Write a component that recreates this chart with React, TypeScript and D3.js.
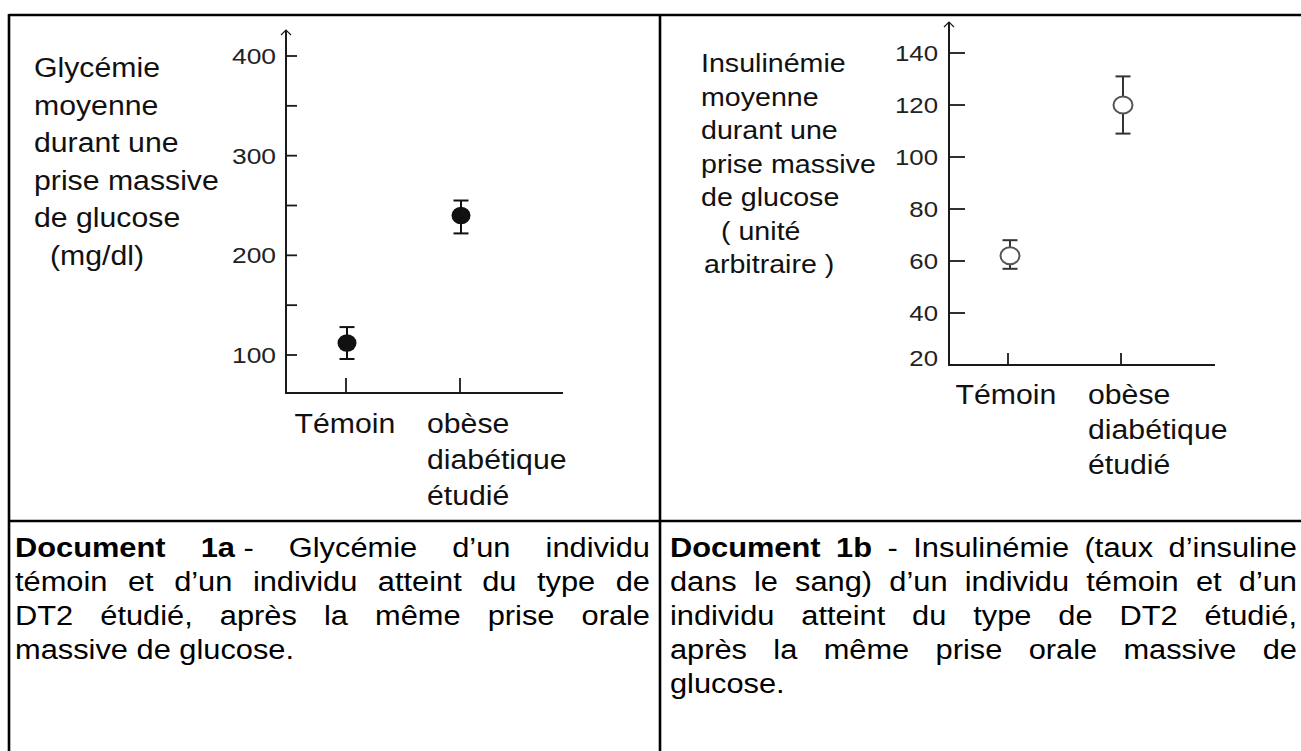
import React from 'react';
import * as d3 from 'd3';

const FONT = '"Liberation Sans", Arial, Helvetica, sans-serif';

// ---------- data ----------
const categories = ['Témoin', 'obèse diabétique étudié'];
const categoryLines = [['Témoin'], ['obèse', 'diabétique', 'étudié']];

const glycemieMean = [112, 240];
const glycemieLow = [96, 222];
const glycemieHigh = [128, 255];
const glyTickValues = [100, 150, 200, 250, 300, 350, 400];
const glyTickLabels = [100, 200, 300, 400];
const glyTitle = ['Glycémie', 'moyenne', 'durant une', 'prise massive', 'de glucose', '(mg/dl)'];

const insulinMean = [62, 120];
const insulinLow = [57, 109];
const insulinHigh = [68, 131];
const insTickValues = [40, 60, 80, 100, 120, 140];
const insTickLabels = [20, 40, 60, 80, 100, 120, 140];
const insTitle = ['Insulinémie', 'moyenne', 'durant une', 'prise massive', 'de glucose', '( unité', 'arbitraire )'];

const captionA = [
  '*Document* *1a*\u00a0- Glycémie d’un individu',
  'témoin et d’un individu atteint du type de',
  'DT2 étudié, après la même prise orale',
  'massive de glucose.',
];
const captionB = [
  '*Document* *1b* - Insulinémie (taux d’insuline',
  'dans le sang) d’un individu témoin et d’un',
  'individu atteint du type de DT2 étudié,',
  'après la même prise orale massive de',
  'glucose.',
];

// ---------- helpers ----------
let ctx: CanvasRenderingContext2D | null = null;
function measure(t: string, size: number, bold: boolean) {
  if (!ctx) ctx = document.createElement('canvas').getContext('2d');
  ctx!.font = `${bold ? 'bold ' : ''}${size}px ${FONT}`;
  return ctx!.measureText(t).width;
}
type Seg = { t: string; b: boolean };
function parseToken(tok: string): Seg[] {
  const parts = tok.split('*');
  const segs: Seg[] = [];
  parts.forEach((p, i) => {
    if (p.length) segs.push({ t: p, b: i % 2 === 1 });
  });
  return segs;
}

const SText = ({ x, y, size, sx, anchor = 'start', children, fill = '#111', weight = 'normal' }: any) => (
  <text
    transform={`translate(${x},${y}) scale(${sx},1)`}
    fontSize={size}
    textAnchor={anchor}
    fill={fill}
    fontWeight={weight}
    fontFamily={FONT}
  >
    {children}
  </text>
);

function Caption({ lines, x0, x1, y0, lh, size, sx }: any) {
  const W = x1 - x0;
  return (
    <g>
      {lines.map((line: string, li: number) => {
        const tokens = line.split(' ').map(parseToken);
        const widths = tokens.map((segs) => segs.reduce((s, g) => s + measure(g.t, size, g.b), 0) * sx);
        const justify = li < lines.length - 1 && tokens.length > 1;
        const spaceW = measure(' ', size, false) * sx;
        const total = widths.reduce((a, b) => a + b, 0);
        const gap = justify ? (W - total) / (tokens.length - 1) : spaceW;
        let x = x0;
        const y = y0 + li * lh;
        return tokens.map((segs, ti) => {
          const el = (
            <text
              key={`${li}-${ti}`}
              transform={`translate(${x},${y}) scale(${sx},1)`}
              fontSize={size}
              fontFamily={FONT}
              fill="#000"
            >
              {segs.map((g, gi) => (
                <tspan key={gi} fontWeight={g.b ? 'bold' : 'normal'}>
                  {g.t}
                </tspan>
              ))}
            </text>
          );
          x += widths[ti] + gap;
          return el;
        });
      })}
    </g>
  );
}

export default function App() {
  React.useEffect(() => {
    document.body.style.margin = '0';
  }, []);

  // left chart scales
  const yG = d3.scaleLinear().domain([100, 400]).range([355, 56]);
  const xG = d3.scalePoint<string>().domain(categories).range([346, 460]);
  const gAx = { x0: 286, yBase: 393, yTop: 30, xEnd: 563, tick: 11, catTick: 15 };

  // right chart scales
  const yI = d3.scaleLinear().domain([20, 140]).range([365, 53]);
  const xI = d3.scalePoint<string>().domain(categories).range([1008, 1121]);
  const iAx = { x0: 949, yBase: 365, yTop: 22, xEnd: 1215, tick: 16, catTick: 12 };

  const axisColor = '#1a1a1a';
  const labelSize = 27;
  const labelSx = 1.12;
  const tickSize = 22;
  const tickSx = 1.2;

  return (
    <svg width={1301} height={751} style={{ position: 'absolute', left: 0, top: 0, background: '#fff' }}>
      <rect x={0} y={0} width={1301} height={751} fill="#fff" />
      {/* table borders */}
      <g stroke="#000" strokeWidth={2.6}>
        <line x1={9} y1={15} x2={1301} y2={15} />
        <line x1={9} y1={14} x2={9} y2={751} />
        <line x1={660} y1={15} x2={660} y2={751} />
        <line x1={9} y1={521} x2={1301} y2={521} />
      </g>

      {/* ---------- left chart ---------- */}
      {glyTitle.map((t, i) => (
        <SText key={t} x={i === 5 ? 50 : 34} y={77 + i * 37.5} size={labelSize} sx={labelSx}>
          {t}
        </SText>
      ))}
      <g stroke={axisColor} fill="none">
        <line x1={gAx.x0} y1={gAx.yBase} x2={gAx.x0} y2={gAx.yTop} strokeWidth={2} />
        <polyline points={`${gAx.x0 - 5},${gAx.yTop + 5} ${gAx.x0},${gAx.yTop} ${gAx.x0 + 5},${gAx.yTop + 5}`} strokeWidth={1.2} />
        <line x1={gAx.x0 - 1} y1={gAx.yBase} x2={gAx.xEnd} y2={gAx.yBase} strokeWidth={2} />
        {glyTickValues.map((v) => (
          <line key={v} x1={gAx.x0} x2={gAx.x0 + gAx.tick} y1={yG(v)} y2={yG(v)} strokeWidth={1.8} />
        ))}
        {categories.map((c) => (
          <line key={c} x1={xG(c)} x2={xG(c)} y1={gAx.yBase} y2={gAx.yBase - gAx.catTick} strokeWidth={1.8} />
        ))}
      </g>
      {glyTickLabels.map((v) => (
        <SText key={v} x={276} y={yG(v) + 8} size={tickSize} sx={tickSx} anchor="end" fill="#222">
          {v}
        </SText>
      ))}
      {categories.map((c, i) =>
        categoryLines[i].map((t, j) =>
          i === 0 ? (
            <SText key={t} x={(xG(c) as number) - 1} y={433 + j * 36} size={labelSize} sx={labelSx} anchor="middle">
              {t}
            </SText>
          ) : (
            <SText key={t} x={(xG(c) as number) - 33} y={433 + j * 36} size={labelSize} sx={labelSx}>
              {t}
            </SText>
          )
        )
      )}
      {categories.map((c, i) => {
        const cx = (xG(c) as number) + 1;
        return (
          <g key={c} stroke="#111" strokeWidth={2}>
            <line x1={cx} x2={cx} y1={yG(glycemieLow[i])} y2={yG(glycemieHigh[i])} />
            <line x1={cx - 7.5} x2={cx + 7.5} y1={yG(glycemieLow[i])} y2={yG(glycemieLow[i])} />
            <line x1={cx - 7.5} x2={cx + 7.5} y1={yG(glycemieHigh[i])} y2={yG(glycemieHigh[i])} />
            <ellipse cx={cx} cy={yG(glycemieMean[i])} rx={9.5} ry={8.8} fill="#111" stroke="none" />
          </g>
        );
      })}

      {/* ---------- right chart ---------- */}
      {insTitle.map((t, i) => (
        <SText key={t} x={i === 5 ? 721 : i === 6 ? 704 : 701} y={72 + i * 33.5} size={26} sx={1.1}>
          {t}
        </SText>
      ))}
      <g stroke={axisColor} fill="none">
        <line x1={iAx.x0} y1={iAx.yBase} x2={iAx.x0} y2={iAx.yTop} strokeWidth={2} />
        <polyline points={`${iAx.x0 - 5},${iAx.yTop + 5} ${iAx.x0},${iAx.yTop} ${iAx.x0 + 5},${iAx.yTop + 5}`} strokeWidth={1.2} />
        <line x1={iAx.x0 - 1} y1={iAx.yBase} x2={iAx.xEnd} y2={iAx.yBase} strokeWidth={2} />
        {insTickValues.map((v) => (
          <line key={v} x1={iAx.x0} x2={iAx.x0 + iAx.tick} y1={yI(v)} y2={yI(v)} strokeWidth={1.8} />
        ))}
        {categories.map((c) => (
          <line key={c} x1={xI(c)} x2={xI(c)} y1={iAx.yBase} y2={iAx.yBase - iAx.catTick} strokeWidth={1.8} />
        ))}
      </g>
      {insTickLabels.map((v) => (
        <SText key={v} x={938} y={(v === 20 ? yI(v) - 7 : yI(v)) + 7.5} size={21.5} sx={tickSx} anchor="end" fill="#222">
          {v}
        </SText>
      ))}
      {categories.map((c, i) =>
        categoryLines[i].map((t, j) =>
          i === 0 ? (
            <SText key={t} x={(xI(c) as number) - 2} y={404 + j * 35} size={labelSize} sx={labelSx} anchor="middle">
              {t}
            </SText>
          ) : (
            <SText key={t} x={(xI(c) as number) - 33} y={404 + j * 35} size={labelSize} sx={labelSx}>
              {t}
            </SText>
          )
        )
      )}
      {categories.map((c, i) => {
        const cx = (xI(c) as number) + 2;
        return (
          <g key={c} stroke="#333" strokeWidth={2}>
            <line x1={cx} x2={cx} y1={yI(insulinLow[i])} y2={yI(insulinHigh[i])} />
            <line x1={cx - 7.5} x2={cx + 7.5} y1={yI(insulinLow[i])} y2={yI(insulinLow[i])} />
            <line x1={cx - 7.5} x2={cx + 7.5} y1={yI(insulinHigh[i])} y2={yI(insulinHigh[i])} />
            <ellipse cx={cx} cy={yI(insulinMean[i])} rx={9.5} ry={8.5} fill="#fff" stroke="#555" />
          </g>
        );
      })}

      {/* ---------- captions ---------- */}
      <Caption lines={captionA} x0={15} x1={650} y0={557} lh={34} size={28} sx={1.1} />
      <Caption lines={captionB} x0={670} x1={1297} y0={557} lh={34} size={28} sx={1.1} />
    </svg>
  );
}
